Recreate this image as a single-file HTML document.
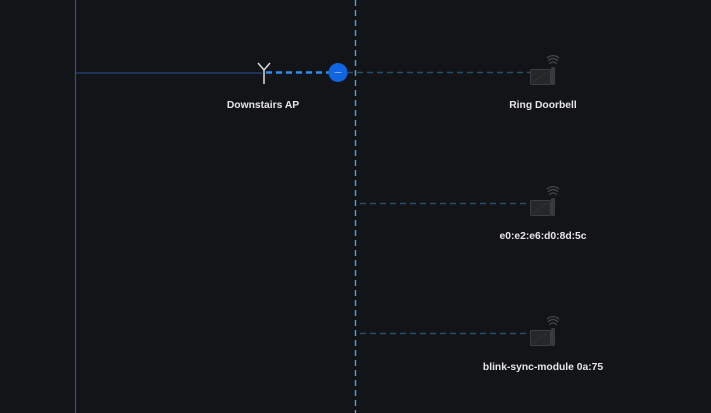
<!DOCTYPE html>
<html><head><style>
body{margin:0;background:#131417;width:711px;height:413px;overflow:hidden;font-family:"Liberation Sans",sans-serif}
.t{position:absolute;color:#e6e6e6;font-size:10.3px;font-weight:bold;white-space:nowrap;transform:translateX(-50%)}
</style></head><body>
<svg width="711" height="413" style="position:absolute;left:0;top:0">
<line x1="75.5" y1="0" x2="75.5" y2="413" stroke="#2d5090" stroke-width="1.2"/>
<line x1="76" y1="73" x2="262" y2="73" stroke="#1e3358" stroke-width="2"/>
<line x1="355.5" y1="0" x2="355.5" y2="413" stroke="#3ea8f0" stroke-width="1.4" stroke-dasharray="6,4"/>
<line x1="266" y1="72.5" x2="332" y2="72.5" stroke="#2f8cf0" stroke-width="2.5" stroke-dasharray="6,4"/>
<line x1="347" y1="72.5" x2="530" y2="72.5" stroke="#24506e" stroke-width="1.5" stroke-dasharray="6,4"/>
<line x1="360" y1="203.5" x2="530" y2="203.5" stroke="#24506e" stroke-width="1.5" stroke-dasharray="6,4"/>
<line x1="360" y1="333.5" x2="530" y2="333.5" stroke="#24506e" stroke-width="1.5" stroke-dasharray="6,4"/>
<circle cx="338" cy="72.5" r="9.5" fill="#0f66e0"/>
<line x1="334.5" y1="72.5" x2="341.5" y2="72.5" stroke="#7fb0f0" stroke-width="1"/>
<g stroke="#ddd" stroke-width="1.5" fill="none"><path d="M264 84V70M264 70L258 63M264 70L270 63"/></g>
<defs><g id="d">
<rect x="0.5" y="0.5" width="20" height="15" rx="1" fill="#262729" stroke="#3c3d40"/>
<path d="M3 13L17 3" stroke="#333" stroke-width="1"/>
<rect x="21" y="-2" width="4" height="18" rx="1" fill="#38393c"/>
<path d="M19.5 -5a4 4 0 0 1 7 0M18 -8a6.5 6.5 0 0 1 10 0M17 -11a9 9 0 0 1 12 0" stroke="#4a4b4e" stroke-width="1.2" fill="none"/>
</g></defs>
<use href="#d" x="530" y="69"/>
<use href="#d" x="530" y="200"/>
<use href="#d" x="530" y="330"/>
</svg>
<div class="t" style="left:263px;top:100px">Downstairs AP</div>
<div class="t" style="left:543px;top:100px">Ring Doorbell</div>
<div class="t" style="left:543px;top:231px">e0:e2:e6:d0:8d:5c</div>
<div class="t" style="left:543px;top:362px">blink-sync-module 0a:75</div>
</body></html>
